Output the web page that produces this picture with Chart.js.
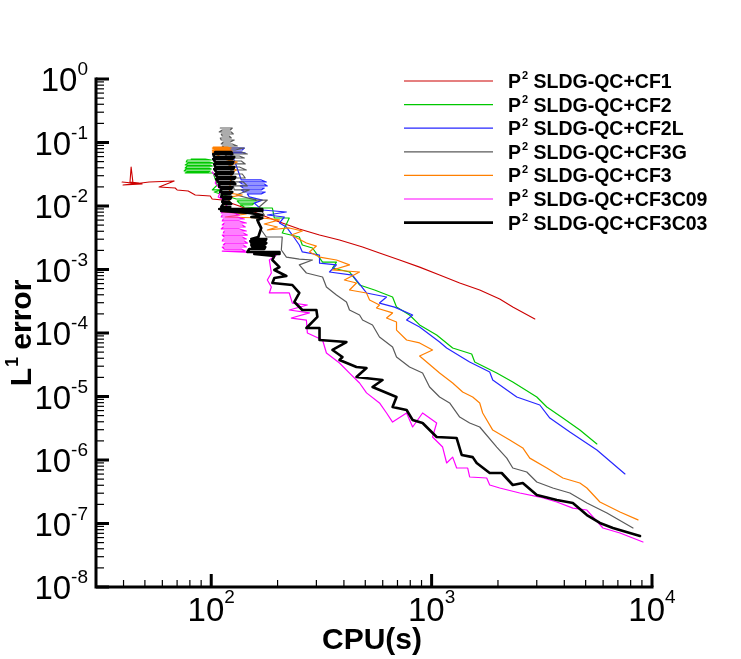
<!DOCTYPE html>
<html><head><meta charset="utf-8">
<script src="https://cdn.jsdelivr.net/npm/chart.js@4.4.0/dist/chart.umd.min.js"></script>
<style>html,body{margin:0;padding:0;background:#fff;overflow:hidden}#wrap{width:741px;height:659px}</style>
</head><body><div id="wrap"><canvas id="c" width="741" height="659"></canvas></div>
<script>
// ---- legend labels ----
const labelHead = 'P';
const labelSup = '2';
const labelTails = [' SLDG-QC+CF1',' SLDG-QC+CF2',' SLDG-QC+CF2L',' SLDG-QC+CF3G',' SLDG-QC+CF3',' SLDG-QC+CF3C09',' SLDG-QC+CF3C03'];
const seriesColors = ['#cc0000','#00c800','#2626ff','#5a5a5a','#ff7f00','#ff00ff','#000000'];

// ---- tick labels ----
const xDecades = [100, 1000, 10000];
const xExps = ['2','3','4'];
const yDecades = [1,1e-1,1e-2,1e-3,1e-4,1e-5,1e-6,1e-7,1e-8];
const yExps = ['0','-1','-2','-3','-4','-5','-6','-7','-8'];

// ---- series: CPU(s) and L1 error ----
const cf1Cpu = [39.4,48.6,39.8,47.1,42.8,43.3,44.2,52.3,67.9,58.0,68.6,70.0,78.6,84.6,99.0,101,112,134,165,204,251,310,382,486,580,716,882,1087,1341,1653,2037,2335,2940];
const cf1Err = [0.0239,0.0222,0.0214,0.0230,0.0239,0.0411,0.0222,0.0239,0.0248,0.0199,0.0192,0.0179,0.0172,0.0149,0.0144,0.0129,0.0124,0.0100,0.00748,0.0056,0.00435,0.00349,0.00291,0.00226,0.00182,0.00141,0.00109,0.000819,0.000613,0.000475,0.000343,0.000257,0.000166];

const cf2Cpu = [81.1,93.9,100,77.8,77.0,97.9,102.1,78.6,76.2,99.0,101.1,77.8,76.2,97.9,100,77.0,75.4,99.0,96.9,77.8,76.2,102.1,
  106.5,101.1,112.2,103.2,
  129.9,158.5,160.1,131.3,134.1,156.8,153.6,135.5,141.3,165.2,189.4,
  193.4,226,210,251,259,288,320,370,355,424,471,551,665,693,794,882,1054,1246,1520,1569,1975,2335,3001,3333,3940,4707,5623];
const cf2Err = [0.0550,0.0550,0.0530,0.0530,0.0493,0.0493,0.0475,0.0475,0.0442,0.0442,0.0426,0.0426,0.0397,0.0397,0.0382,0.0382,0.0356,0.0356,0.0343,0.0343,0.0331,0.0331,
  0.0214,0.0179,0.0179,0.0166,
  0.0129,0.0129,0.0120,0.0120,0.0111,0.0111,0.0104,0.0104,0.00964,0.0093,0.0093,
  0.00647,0.00647,0.00376,0.00325,0.00243,0.00218,0.00131,0.00131,0.001057,0.000914,0.00057,0.000475,0.000369,0.000256,0.000192,0.000134,9.31e-5,5.81e-5,4.67e-5,3.49e-5,2.34e-5,1.69e-5,9.82e-6,6.84e-6,4.58e-6,2.96e-6,1.79e-6];

const cf2lCpu = [114.6,141.3,138.3,118.2,113.4,136.9,142.7,120.7,
  127.2,
  136.9,168.7,177.8,134.1,138.3,174.1,179.7,135.5,139.8,174.1,168.7,136.9,141.3,175.9,168.7,145.8,
  148.8,170.5,156.8,170.5,219.3,179.7,214.7,204,219.3,233.4,251,259,310,310,370,343.9,437.4,506.5,624.5,580,679,820,770,882,1087,1170,1488,1835,1894,2434,3097,3439,4240,5623,7540];
const cf2lErr = [0.0819,0.0819,0.0762,0.0762,0.0708,0.0708,0.0683,0.0683,
  0.0530,
  0.0257,0.0257,0.0239,0.0239,0.0222,0.0222,0.0207,0.0207,0.0192,0.0192,0.0179,0.0179,0.0166,0.0166,0.0155,0.0155,
  0.0139,0.0124,0.0111,0.00865,0.00805,0.00721,0.00671,0.0054,0.00467,0.00349,0.00243,0.00189,0.00169,0.00126,0.00118,0.000914,0.000818,0.000427,0.000369,0.000296,0.000256,0.000192,0.00016,0.000124,7.21e-5,5.81e-5,3.49e-5,2.43e-5,1.82e-5,9.82e-6,7.35e-6,4.58e-6,2.76e-6,1.44e-6,6.03e-7];

const cf3gCpu = [109.9,124.6,122.0,112.2,108.7,123.3,125.9,111.0,112.2,120.7,123.3,109.9,111.0,127.2,122.0,113.4,111.0,124.6,131.3,112.2,
  114.6,141.3,128.6,115.8,117.0,136.9,145.8,118.2,115.8,134.1,141.3,119.5,120.7,136.9,142.7,122.0,119.5,134.1,144.3,123.3,
  120.7,138.3,142.7,124.6,123.3,139.8,145.8,125.9,127.2,148.8,
  129.9,160.1,179.7,165,174.1,161.8,168.7,177.8,210,208,219.3,251,288,251,270.3,320,333.2,370,410.8,424,471,486,539.3,580,665,693,794,910,979,1087,1207,1341,1488,1653,1975,2193,2335,2703,3001,3548,4240,5065,6245,8197];
const cf3gErr = [0.1692,0.1692,0.1573,0.1573,0.1463,0.1463,0.1361,0.1361,0.1265,0.1265,0.1177,0.1177,0.1095,0.1095,0.1018,0.1018,0.0947,0.0947,0.0881,0.0881,
  0.0819,0.0819,0.0762,0.0762,0.0708,0.0708,0.0659,0.0659,0.0613,0.0613,0.0570,0.0570,0.0511,0.0511,0.0459,0.0459,0.0411,0.0411,0.0369,0.0369,
  0.0319,0.0319,0.0276,0.0276,0.0239,0.0239,0.0207,0.0207,0.0179,0.0179,
  0.0149,0.0124,0.0124,0.00964,0.00721,0.0056,0.00419,0.00325,0.00325,0.00203,0.00157,0.00146,0.00141,0.00118,0.000881,0.000762,0.00053,0.000396,0.000308,0.00023,0.000192,0.00016,0.000134,8.65e-5,6.03e-5,4.19e-5,2.92e-5,2.34e-5,1.41e-5,9.82e-6,7.91e-6,4.75e-6,3.83e-6,3.31e-6,1.60e-6,1.07e-6,7.48e-7,6.47e-7,4.51e-7,3.62e-7,3.02e-7,2.10e-7,1.46e-7,8.49e-8];

const cf3Cpu = [102.1,118.2,123.3,101.1,103.2,120.7,122.0,101.1,102.1,124.6,119.5,101.1,103.2,123.3,120.7,104.3,
  118.2,131.3,120.7,129.9,123.3,
  120.7,138.3,123.3,112,144.3,115.8,170.5,204,174.1,199.5,179.7,226,259,231,270.3,300,279,310,370,424,355,471,402,456,424,506.5,523,580,562,665,624.5,693,693,770,882,1010,882,1010,1087,1246,1383,1536,1653,1705,1894,2262,2592,2789,3333,3940,4707,5065,5802,7155,8638];
const cf3Err = [0.0849,0.0849,0.0819,0.0819,0.0790,0.0790,0.0762,0.0762,0.0735,0.0735,0.0708,0.0708,0.0683,0.0683,0.0659,0.0659,
  0.0530,0.0493,0.0426,0.0369,0.0331,
  0.0160,0.0149,0.0139,0.00805,0.00748,0.00671,0.00647,0.00603,0.00521,0.00467,0.00419,0.00451,0.00404,0.00349,0.00261,0.00234,0.00189,0.00157,0.00141,0.00118,0.000982,0.000914,0.000684,0.000613,0.000475,0.000427,0.000331,0.000276,0.000248,0.000207,0.000172,0.000149,0.000111,7.76e-5,6.97e-5,5.40e-5,4.34e-5,2.92e-5,2.34e-5,1.63e-5,1.18e-5,9.82e-6,7.91e-6,5.50e-6,2.96e-6,2.07e-6,1.55e-6,1.07e-6,7.48e-7,5.21e-7,4.35e-7,3.62e-7,2.18e-7,1.52e-7,1.14e-7];

const cf3c09Cpu = [101.1,106.5,104.3,111,107.6,114.6,118.2,113.4,
  111.0,127.2,134.1,112.2,111.0,131.3,141.3,113.4,112.2,134.1,144.3,114.6,112.2,138.3,142.7,113.4,111.0,134.1,144.3,114.6,113.4,139.8,
  145.8,112.2,114.6,138.3,144.3,113.4,112.2,141.3,145.8,115.8,113.4,139.8,144.3,112.2,114.6,136.9,142.7,112.2,
  168.7,197.5,183.5,187.4,179.7,187.4,183.5,226,233.4,273,226,279,231,270.3,273,320,333.2,382,424,471,506.5,580,624.5,665,770,820,910,1054,1010,1122,1170,1246,1299,1458,1488,1778,1835,2037,2512,3097,3700,4374,5065,5988,7155,9101];
const cf3c09Err = [0.0343,0.0276,0.0230,0.0179,0.0139,0.0124,0.00964,0.00834,
  0.00776,0.00776,0.00721,0.00721,0.00671,0.00671,0.00624,0.00624,0.00581,0.00581,0.00540,0.00540,0.00502,0.00502,0.00467,0.00467,0.00435,0.00435,0.00404,0.00404,0.00376,0.00376,
  0.00349,0.00349,0.00325,0.00325,0.00302,0.00302,0.00281,0.00281,0.00261,0.00261,0.00243,0.00243,0.00226,0.00226,0.00210,0.00210,0.00195,0.00195,
  0.00182,0.00169,0.00141,0.000881,0.000684,0.00053,0.000427,0.000427,0.000296,0.000276,0.00023,0.000207,0.000172,0.00016,0.0001,7.76e-5,4.84e-5,3.37e-5,2.34e-5,1.63e-5,1.14e-5,7.91e-6,5.50e-6,3.96e-6,5.50e-6,3.31e-6,5.50e-6,3.83e-6,2.30e-6,1.60e-6,8.97e-7,1.11e-6,7.48e-7,7.48e-7,5.40e-7,5.21e-7,4.04e-7,3.62e-7,3.02e-7,2.61e-7,2.18e-7,1.75e-7,1.63e-7,8.49e-8,7.08e-8,5.12e-8];

const cf3c03Cpu = [104.3,123.3,124.6,102.1,103.2,127.2,124.6,102.1,104.3,125.9,124.6,103.2,104.3,127.2,125.9,103.2,105.4,125.9,124.6,104.3,
  106.5,128.6,127.2,105.4,107.6,125.9,128.6,108.7,108.7,124.6,123.3,111.0,109.9,124.6,122.0,112.2,111.0,123.3,122.0,113.4,
  112.2,120.7,123.3,113.4,111.0,122.0,
  108.7,170.5,170.5,111.0,148.8,170.5,152.0,170.5,161.8,168.7,163.5,
  152.0,177.8,175.9,150.4,152.0,177.8,174.1,152.0,153.6,175.9,174.1,148.8,145.8,204,204,156.8,193.4,189.4,
  204,193.4,219.3,193.4,189.4,233.4,251,238.4,259,300,303.2,270.3,310,310,410.8,355,394,382,456,506.5,456,598.8,539.3,693,665,770,820,910,1054,1299,1369,1536,1601,1835,2080,2335,2592,3001,3700,4374,5065,5802,6648,8822];
const cf3c03Err = [0.0708,0.0708,0.0659,0.0659,0.0591,0.0591,0.0550,0.0550,0.0493,0.0493,0.0459,0.0459,0.0411,0.0411,0.0382,0.0382,0.0343,0.0343,0.0319,0.0319,
  0.0286,0.0286,0.0266,0.0266,0.0239,0.0239,0.0222,0.0222,0.0199,0.0199,0.0185,0.0185,0.0166,0.0166,0.0155,0.0155,0.0139,0.0139,0.0129,0.0129,
  0.0116,0.0116,0.0108,0.0108,0.00964,0.00964,
  0.00897,0.00897,0.00834,0.00834,0.00776,0.00721,0.00671,0.00647,0.00603,0.00451,0.00325,
  0.00302,0.00302,0.00281,0.00281,0.00261,0.00261,0.00243,0.00243,0.00226,0.00226,0.0021,0.0021,0.00189,0.00189,0.00175,0.00175,0.00163,0.00141,
  0.00109,0.000982,0.000791,0.000735,0.000613,0.00057,0.000427,0.000308,0.00023,0.00023,0.000179,0.00012,0.00012,7.76e-5,7.21e-5,5.40e-5,4.19e-5,3.76e-5,2.92e-5,2.81e-5,2.03e-5,1.82e-5,1.41e-5,9.82e-6,6.84e-6,6.12e-6,4.27e-6,3.83e-6,2.30e-6,2.22e-6,1.20e-6,1.11e-6,8.97e-7,6.24e-7,6.24e-7,4.04e-7,4.35e-7,2.81e-7,2.34e-7,2.10e-7,1.36e-7,1.02e-7,8.49e-8,6.35e-8];

const allCpu = [cf1Cpu,cf2Cpu,cf2lCpu,cf3gCpu,cf3Cpu,cf3c09Cpu,cf3c03Cpu];
const allErr = [cf1Err,cf2Err,cf2lErr,cf3gErr,cf3Err,cf3c09Err,cf3c03Err];
const lineWidths = [1.1,1.2,1.2,1.2,1.2,1.2,2.6];

const FONT = '"Liberation Sans", Arial, Helvetica, sans-serif';

const datasets = allCpu.map((cpu, i) => ({
  label: labelHead + '\u00B2' + labelTails[i],
  data: cpu.map((v, k) => ({x: v, y: allErr[i][k]})),
  showLine: true,
  borderColor: seriesColors[i],
  backgroundColor: seriesColors[i],
  borderWidth: lineWidths[i],
  borderJoinStyle: 'round',
  borderCapStyle: 'round',
  pointRadius: 0,
  pointHoverRadius: 0,
  tension: 0,
  fill: false,
  order: 6 - i
}));

const axesPlugin = {
  id: 'tecAxes',
  afterDatasetsDraw(chart) {
    const {ctx, chartArea: a, scales: {x, y}} = chart;
    ctx.save();
    ctx.strokeStyle = '#000';
    ctx.fillStyle = '#000';
    ctx.lineCap = 'butt';
    ctx.lineWidth = 3;
    ctx.beginPath();
    ctx.moveTo(a.left, a.top - 1.5);
    ctx.lineTo(a.left, a.bottom + 1.5);
    ctx.moveTo(a.left - 1.5, a.bottom);
    ctx.lineTo(a.right + 1.5, a.bottom);
    ctx.stroke();
    yDecades.forEach(d => {
      const py = y.getPixelForValue(d);
      ctx.lineWidth = 3;
      ctx.beginPath(); ctx.moveTo(a.left, py); ctx.lineTo(a.left + 13, py); ctx.stroke();
      if (d > y.min * 1.0001) {
        for (let m = 2; m <= 9; m++) {
          const v = d / 10 * m;
          if (v < y.min || v > y.max) continue;
          const pm = y.getPixelForValue(v);
          ctx.lineWidth = 1.2;
          ctx.beginPath(); ctx.moveTo(a.left, pm); ctx.lineTo(a.left + 8, pm); ctx.stroke();
        }
      }
    });
    const xMinor = [];
    [10, 100, 1000].forEach(d => { for (let m = 2; m <= 9; m++) xMinor.push(d * m); });
    xMinor.forEach(v => {
      if (v < x.min || v > x.max) return;
      const px = x.getPixelForValue(v);
      ctx.lineWidth = 1.2;
      ctx.beginPath(); ctx.moveTo(px, a.bottom); ctx.lineTo(px, a.bottom - 7); ctx.stroke();
    });
    xDecades.forEach(d => {
      const px = x.getPixelForValue(d);
      ctx.lineWidth = 3;
      ctx.beginPath(); ctx.moveTo(px, a.bottom); ctx.lineTo(px, a.bottom - 13); ctx.stroke();
    });
    const mainF = '33px ' + FONT, supF = '19px ' + FONT;
    ctx.textAlign = 'left';
    ctx.textBaseline = 'alphabetic';
    yDecades.forEach((d, i) => {
      const py = y.getPixelForValue(d);
      ctx.font = mainF; const w1 = ctx.measureText('10').width;
      ctx.font = supF; const w2 = ctx.measureText(yExps[i]).width;
      const x0 = a.left - 8 - w1 - w2;
      ctx.font = mainF; ctx.fillText('10', x0, py + 12);
      ctx.font = supF; ctx.fillText(yExps[i], x0 + w1, py - 4);
    });
    xDecades.forEach((d, i) => {
      const px = x.getPixelForValue(d);
      ctx.font = mainF; const w1 = ctx.measureText('10').width;
      ctx.font = supF; const w2 = ctx.measureText(xExps[i]).width;
      const x0 = px - (w1 + w2) / 2;
      ctx.font = mainF; ctx.fillText('10', x0, a.bottom + 34);
      ctx.font = supF; ctx.fillText(xExps[i], x0 + w1, a.bottom + 16);
    });
    ctx.font = 'bold 30px ' + FONT;
    ctx.textAlign = 'center';
    ctx.fillText('CPU(s)', (a.left + a.right) / 2 - 2, a.bottom + 62);
    ctx.save();
    ctx.translate(31, (a.top + a.bottom) / 2);
    ctx.rotate(-Math.PI / 2);
    ctx.textAlign = 'left';
    ctx.font = 'bold 30px ' + FONT;
    const tL = ctx.measureText('L').width;
    ctx.font = 'bold 18px ' + FONT;
    const t1 = ctx.measureText('1').width;
    ctx.font = 'bold 30px ' + FONT;
    const tE = ctx.measureText(' error').width;
    const sx = -(tL + t1 + tE) / 2;
    ctx.fillText('L', sx, 0);
    ctx.font = 'bold 18px ' + FONT;
    ctx.fillText('1', sx + tL + 1, -13);
    ctx.font = 'bold 30px ' + FONT;
    ctx.fillText(' error', sx + tL + t1, 0);
    ctx.restore();
    ctx.textAlign = 'left';
    labelTails.forEach((t, i) => {
      const ly = a.top + 2 + i * 23.6;
      ctx.strokeStyle = seriesColors[i];
      ctx.lineWidth = lineWidths[i];
      ctx.beginPath(); ctx.moveTo(404, ly); ctx.lineTo(493, ly); ctx.stroke();
      ctx.font = 'bold 19.5px ' + FONT;
      ctx.fillText(labelHead, 508, ly + 7);
      const wp = ctx.measureText(labelHead).width;
      ctx.font = 'bold 11px ' + FONT;
      ctx.fillText(labelSup, 508 + wp + 1, ly - 2);
      const ws = ctx.measureText(labelSup).width;
      ctx.font = 'bold 19.5px ' + FONT;
      ctx.fillText(t, 508 + wp + ws + 1, ly + 7);
    });
    ctx.restore();
  }
};

new Chart(document.getElementById('c'), {
  type: 'scatter',
  data: { datasets },
  options: {
    responsive: false,
    animation: false,
    devicePixelRatio: 1,
    layout: { padding: { left: 96, right: 89, top: 79, bottom: 72 } },
    plugins: { legend: { display: false }, tooltip: { enabled: false } },
    events: [],
    scales: {
      x: { type: 'logarithmic', min: 30, max: 10000, display: false },
      y: { type: 'logarithmic', min: 1e-8, max: 1, display: false }
    }
  },
  plugins: [axesPlugin]
});
</script>
</body></html>
